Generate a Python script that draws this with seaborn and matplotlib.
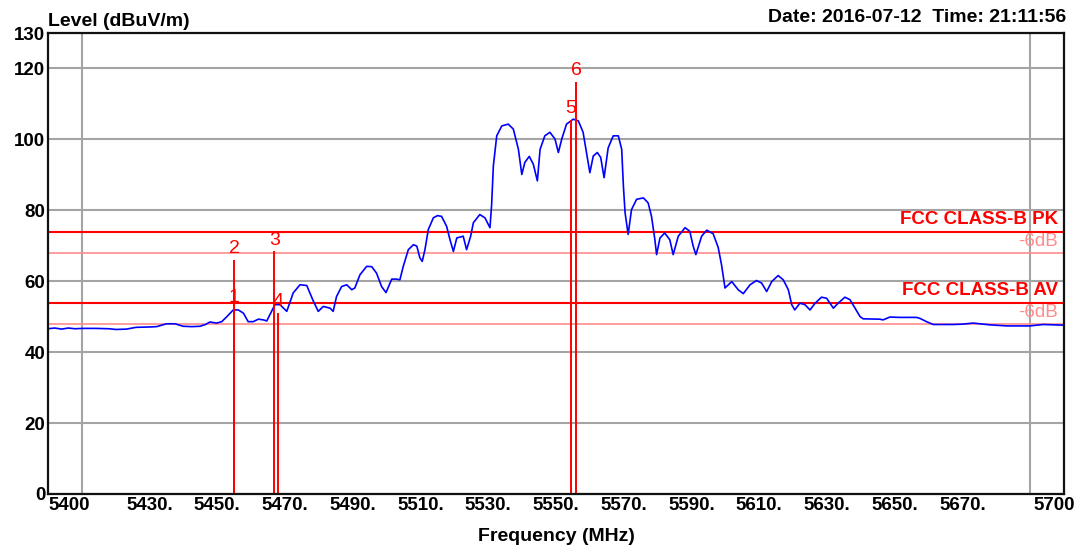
import matplotlib
matplotlib.use('Agg')
import matplotlib.pyplot as plt
import matplotlib.transforms as mtransforms
import pandas as pd
import seaborn as sns

# ---------------- data ----------------
freq = [5400.0, 5402.0, 5404.0, 5406.0, 5408.0, 5410.3, 5414.0, 5418.0, 5420.0, 5423.2,
        5426.0, 5430.0, 5432.1, 5433.5, 5435.0, 5437.5, 5439.9, 5442.5, 5444.9, 5446.5,
        5447.8, 5449.8, 5451.3, 5452.8, 5454.7, 5456.2, 5457.7, 5459.1, 5460.6, 5462.1,
        5463.6, 5464.6, 5466.0, 5467.0, 5468.5, 5470.5, 5472.4, 5474.4, 5476.4, 5478.3,
        5479.8, 5481.3, 5483.3, 5484.2, 5485.2, 5486.7, 5488.2, 5489.7, 5490.6, 5492.1,
        5494.1, 5495.6, 5497.0, 5498.5, 5499.8, 5501.5, 5502.9, 5503.9, 5504.9, 5506.4,
        5507.9, 5508.9, 5509.8, 5510.5, 5511.3, 5512.3, 5513.8, 5515.0, 5516.2, 5517.7,
        5518.7, 5519.7, 5520.7, 5522.6, 5523.6, 5524.8, 5525.6, 5527.5, 5529.0, 5530.5,
        5531.0, 5531.5, 5532.5, 5534.0, 5535.9, 5537.4, 5538.9, 5539.9, 5540.8, 5542.1,
        5543.3, 5544.5, 5545.3, 5546.7, 5548.2, 5549.7, 5550.7, 5551.7, 5553.1, 5555.1,
        5556.6, 5558.0, 5559.0, 5560.0, 5561.0, 5562.2, 5563.2, 5564.2, 5565.4, 5566.9,
        5568.4, 5569.4, 5569.9, 5570.4, 5571.3, 5572.3, 5573.8, 5575.8, 5577.2, 5578.2,
        5579.2, 5579.7, 5580.7, 5582.1, 5583.6, 5584.6, 5586.1, 5588.1, 5589.5, 5590.5,
        5591.3, 5593.0, 5594.5, 5596.4, 5597.9, 5598.9, 5599.9, 5601.9, 5603.8, 5605.3,
        5607.3, 5609.2, 5610.7, 5612.2, 5613.7, 5615.6, 5617.1, 5618.6, 5619.6, 5620.5,
        5622.0, 5623.5, 5625.0, 5626.5, 5628.4, 5629.9, 5631.9, 5633.3, 5635.3, 5636.8,
        5638.3, 5639.8, 5640.7, 5645.6, 5646.6, 5648.6, 5651.5, 5656.5, 5657.5, 5659.4,
        5661.4, 5667.3, 5670.0, 5673.2, 5678.1, 5683.1, 5689.9, 5693.9, 5700.0]
level = [46.6, 46.8, 46.5, 46.8, 46.6, 46.7, 46.7, 46.6, 46.4, 46.5,
         47.0, 47.1, 47.2, 47.6, 48.0, 48.0, 47.3, 47.2, 47.3, 47.8,
         48.5, 48.2, 48.6, 50.0, 51.9, 51.9, 51.0, 48.6, 48.6, 49.3,
         49.1, 48.8, 51.5, 53.4, 53.4, 51.5, 56.7, 59.0, 58.8, 54.5,
         51.5, 52.9, 52.4, 51.5, 55.7, 58.5, 59.0, 57.6, 58.1, 61.8,
         64.2, 64.1, 62.3, 58.5, 56.8, 60.6, 60.6, 60.4, 64.2, 68.9,
         70.3, 69.9, 66.6, 65.6, 68.9, 74.6, 77.9, 78.5, 78.3, 75.5,
         71.7, 68.4, 72.2, 72.7, 68.9, 72.7, 76.5, 78.8, 77.9, 75.1,
         81.7, 92.5, 101.0, 103.8, 104.3, 102.9, 97.2, 90.1, 93.5, 95.2,
         93.0, 88.3, 97.2, 101.0, 102.0, 100.1, 96.3, 100.1, 104.3, 105.7,
         105.2, 102.0, 96.3, 90.6, 95.3, 96.3, 94.9, 89.2, 97.6, 101.0,
         101.0, 97.2, 86.8, 79.3, 73.2, 80.2, 83.1, 83.5, 82.1, 78.3,
         71.7, 67.5, 72.2, 73.6, 71.7, 67.5, 72.7, 75.1, 74.1, 69.9,
         67.5, 72.7, 74.4, 73.4, 69.5, 64.5, 58.1, 59.9, 57.6, 56.5,
         59.0, 60.2, 59.5, 57.1, 59.9, 61.6, 60.4, 57.6, 53.4, 51.9,
         53.8, 53.4, 51.9, 53.8, 55.5, 55.2, 52.4, 53.8, 55.5, 54.8,
         52.4, 50.0, 49.4, 49.3, 49.1, 49.9, 49.8, 49.8, 49.5, 48.6,
         47.8, 47.8, 47.9, 48.2, 47.7, 47.4, 47.4, 47.8, 47.6]

limit_names = ['FCC CLASS-B PK', 'FCC CLASS-B AV']
limit_values = [74, 54]
margin_db = 6
margin_label = '-6dB'

marker_ids = ['1', '2', '3', '4', '5', '6']
marker_freq = [5455.0, 5455.0, 5466.8, 5468.0, 5554.3, 5556.0]
marker_level = [52.2, 66.1, 68.4, 51.1, 105.4, 116.2]

xtick_pos = [5400, 5430, 5450, 5470, 5490, 5510, 5530, 5550, 5570, 5590, 5610,
             5630, 5650, 5670, 5700]
xtick_labels = ['5400', '5430.', '5450.', '5470.', '5490.', '5510.', '5530.', '5550.',
                '5570.', '5590.', '5610.', '5630.', '5650.', '5670.', '5700']
xgrid_pos = [5410, 5430, 5450, 5470, 5490, 5510, 5530, 5550, 5570, 5590, 5610,
             5630, 5650, 5670, 5690]
ytick_pos = [0, 20, 40, 60, 80, 100, 120, 130]

title_left = 'Level (dBuV/m)'
title_right = 'Date: 2016-07-12  Time: 21:11:56'
x_label = 'Frequency (MHz)'

# ---------------- style ----------------
sns.set_theme(style='white')
plt.rcParams['font.family'] = ['Liberation Sans', 'DejaVu Sans']
plt.rcParams['text.color'] = 'black'
plt.rcParams['xtick.color'] = 'black'
plt.rcParams['ytick.color'] = 'black'

W, H = 1092, 550
fig = plt.figure(figsize=(W / 100, H / 100), dpi=100)
fig.patch.set_facecolor('white')
ax = fig.add_axes([48 / W, 1 - 494 / H, 1016 / W, 461 / H])
ax.set_facecolor('white')

RED = '#ff0000'
PINK = '#ff8c8c'

df = pd.DataFrame({'Frequency': freq, 'Level': level})
sns.lineplot(data=df, x='Frequency', y='Level', color='#0000ff', linewidth=1.2,
             ax=ax, zorder=4, sort=False)

# limit lines
trans = mtransforms.blended_transform_factory(ax.transAxes, ax.transData)
for name, val in zip(limit_names, limit_values):
    ax.axhline(val, color=RED, lw=1.5, zorder=3)
    ax.axhline(val - margin_db, color=PINK, lw=1.2, zorder=3)
    ax.text(0.9944, val + 2.0, name, transform=trans, ha='right', va='baseline',
            color=RED, fontsize=13.5, fontweight='bold', zorder=6)
    ax.text(0.9944, val - 4.1, margin_label, transform=trans, ha='right', va='baseline',
            color=PINK, fontsize=13.5, zorder=6)

# markers
ax.vlines(marker_freq, 0, marker_level, colors=RED, lw=1.4, zorder=5)
for mid, f, lv in zip(marker_ids, marker_freq, marker_level):
    ax.text(f, lv + 1.9, mid, ha='center', va='baseline', color=RED, fontsize=14, zorder=6)

ax.set_xlim(5400, 5700)
ax.set_ylim(0, 130)
ax.set_xlabel('')
ax.set_ylabel('')

ax.set_xticks(xtick_pos)
ax.set_xticklabels(xtick_labels, fontweight='bold', fontsize=13.5, color='black')
ax.set_xticks(xgrid_pos, minor=True)
ax.set_yticks(ytick_pos)
ax.set_yticklabels([str(v) for v in ytick_pos], fontweight='bold', fontsize=13.5,
                   color='black')
ax.tick_params(axis='both', which='both', length=0, labelcolor='black')
ax.tick_params(axis='x', pad=2)
ax.tick_params(axis='y', pad=2)

ax.grid(False)
ax.xaxis.grid(True, which='minor', color='#a4a4a4', lw=1.5, zorder=1)
ax.yaxis.grid(True, which='major', color='#a4a4a4', lw=1.5, zorder=1)
ax.set_axisbelow(True)

xl = ax.get_xticklabels()
xl[0].set_ha('left')
xl[-1].set_transform(xl[-1].get_transform() +
                     mtransforms.ScaledTranslation(-10 / 100, 0, fig.dpi_scale_trans))

for s in ax.spines.values():
    s.set_visible(True)
    s.set_color('#111111')
    s.set_linewidth(1.6)
    s.set_zorder(7)

fig.text(48 / W, 1 - 26 / H, title_left, ha='left', va='baseline',
         fontsize=14, fontweight='bold', color='black')
fig.text(1066 / W, 1 - 22 / H, title_right, ha='right', va='baseline',
         fontsize=14, fontweight='bold', color='black')
fig.text(556 / W, 1 - 541 / H, x_label, ha='center', va='baseline',
         fontsize=14, fontweight='bold', color='black')

fig.savefig('out.png', dpi=100, facecolor='white')
